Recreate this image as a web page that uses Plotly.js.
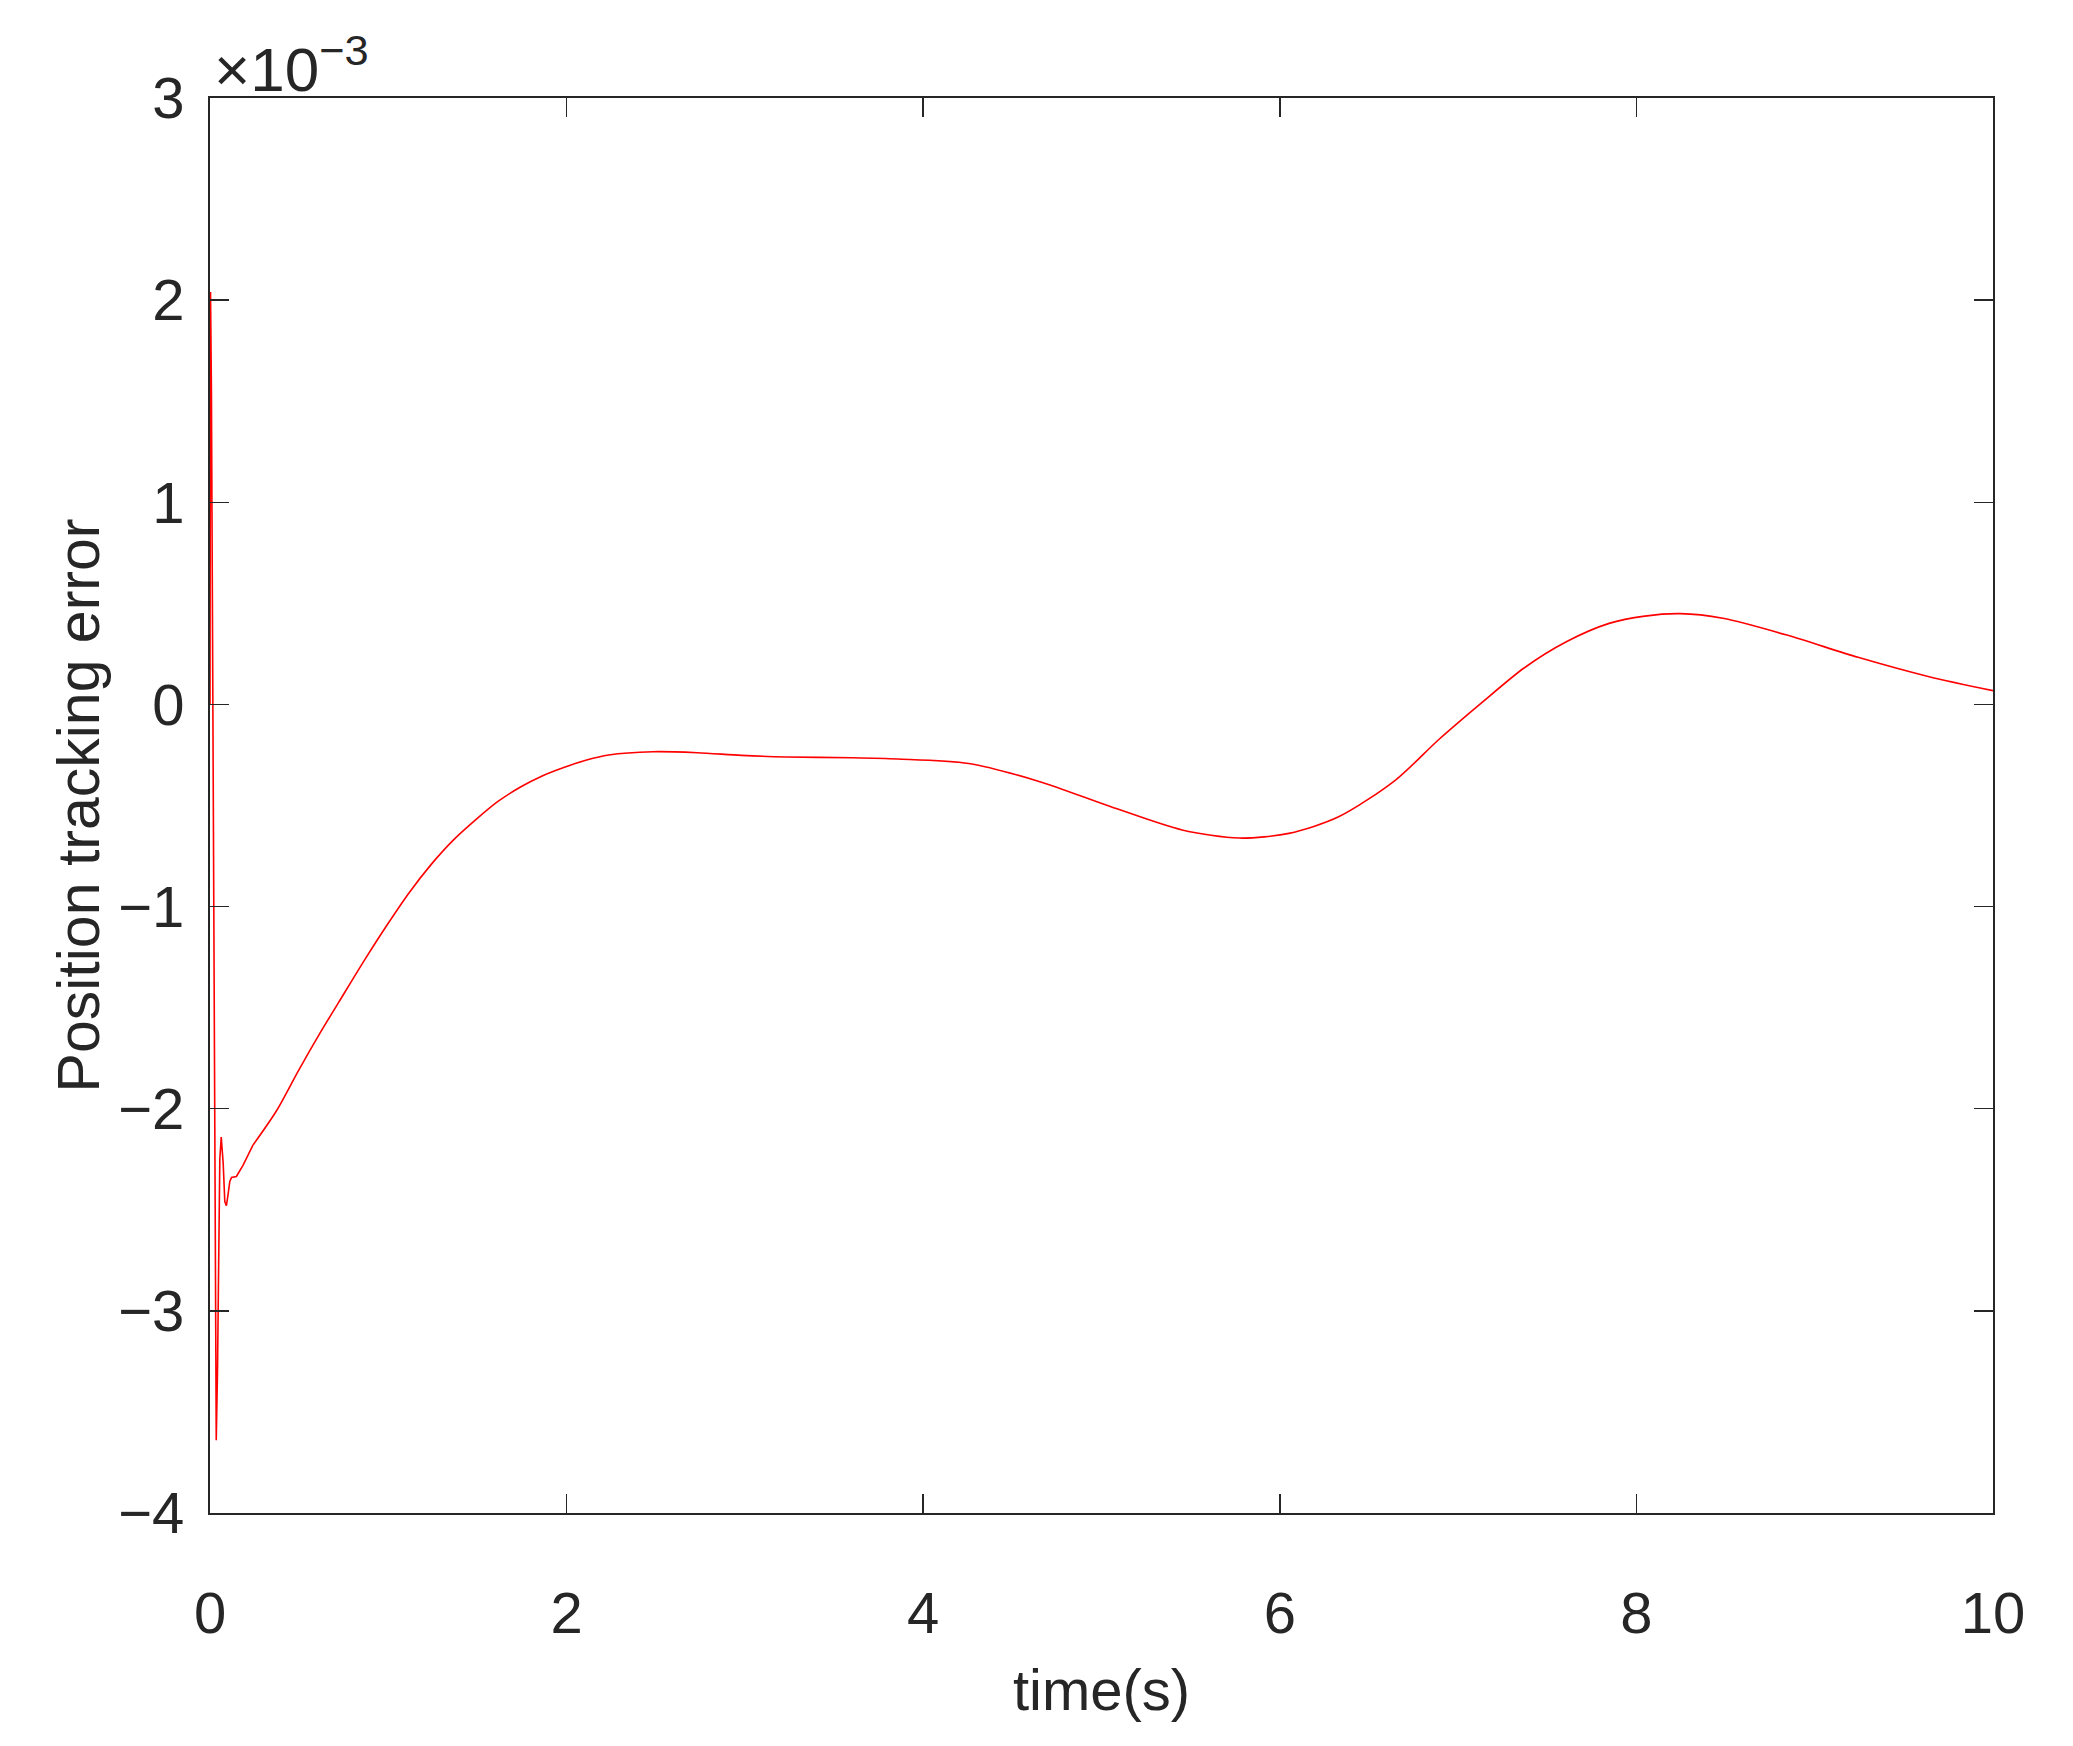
<!DOCTYPE html>
<html>
<head>
<meta charset="utf-8">
<script src="https://cdn.plot.ly/plotly-3.0.1.min.js"></script>
<style>
  html, body { margin: 0; padding: 0; background: #fff; }
  #chart { width: 2073px; height: 1746px; }
</style>
</head>
<body>
<div id="chart"></div>
<script>
  // time (s) and position tracking error (x 1e-3)
  const time = [0, 0.003, 0.008, 0.015, 0.022, 0.028, 0.035, 0.042, 0.048, 0.055,
    0.063, 0.074, 0.083, 0.092, 0.102, 0.111, 0.121, 0.148, 0.185, 0.241,
    0.373, 0.497, 0.621, 0.745, 0.870, 0.994, 1.118, 1.242, 1.366, 1.491,
    1.615, 1.739, 1.863, 1.988, 2.112, 2.236, 2.484, 2.733, 2.981, 3.23,
    3.60, 3.856, 4.255, 4.654, 5.053, 5.452, 5.772, 6.051, 6.330, 6.649,
    6.889, 7.128, 7.368, 7.607, 7.847, 8.047, 8.246, 8.485, 8.844, 9.243,
    9.642, 10.0];

  const posError = [0, 2.04, 1.55, 0.1, -1.5, -3.0, -3.64, -3.3, -2.7, -2.25,
    -2.14, -2.27, -2.46, -2.48, -2.42, -2.36, -2.34, -2.335, -2.28, -2.18,
    -2.01, -1.81, -1.62, -1.44, -1.26, -1.09, -0.93, -0.79, -0.67, -0.57,
    -0.48, -0.41, -0.354, -0.311, -0.275, -0.250, -0.234, -0.239, -0.252, -0.260,
    -0.264, -0.270, -0.292, -0.382, -0.506, -0.621, -0.661, -0.638, -0.556, -0.374,
    -0.176, 0.005, 0.179, 0.310, 0.401, 0.437, 0.449, 0.426, 0.343, 0.233,
    0.137, 0.068];

  const xTicks = [0, 2, 4, 6, 8, 10];
  const yTicks = [-4, -3, -2, -1, 0, 1, 2, 3];

  // the first 0.24 s is a sharp transient, the rest is smooth
  const split = 19;

  const axisColor = '#262626';
  const font = { family: 'Liberation Sans, Arial, sans-serif', size: 58, color: axisColor };

  var trace1 = {
    x: time.slice(0, split + 1),
    y: posError.slice(0, split + 1),
    mode: 'lines',
    type: 'scatter',
    name: 'transient',
    line: { color: '#ff0000', width: 1.6 },
  };

  var trace2 = {
    x: time.slice(split),
    y: posError.slice(split),
    mode: 'lines',
    type: 'scatter',
    name: 'error',
    line: { color: '#ff0000', width: 1.6, shape: 'spline', smoothing: 0.8 },
  };

  var layout = {
    width: 2073,
    height: 1746,
    margin: { l: 210, r: 80, t: 98, b: 233 },
    paper_bgcolor: '#ffffff',
    plot_bgcolor: '#ffffff',
    showlegend: false,
    font: font,
    xaxis: {
      range: [0, 10],
      tickvals: xTicks,
      ticks: 'inside',
      ticklen: 19,
      tickwidth: 1.5,
      tickcolor: axisColor,
      showline: true,
      linecolor: axisColor,
      linewidth: 2,
      mirror: 'ticks',
      showgrid: false,
      zeroline: false,
      ticklabelstandoff: 48,
      tickfont: font,
      title: { text: 'time(s)', font: font, standoff: 26 },
    },
    yaxis: {
      range: [-4, 3],
      tickvals: yTicks,
      ticks: 'inside',
      ticklen: 19,
      tickwidth: 1.5,
      tickcolor: axisColor,
      showline: true,
      linecolor: axisColor,
      linewidth: 2,
      mirror: 'ticks',
      showgrid: false,
      zeroline: false,
      ticklabelstandoff: 12,
      tickfont: font,
      title: { text: 'Position tracking error', font: { family: font.family, size: 59, color: axisColor }, standoff: 0 },
    },
    annotations: [{
      xref: 'paper', yref: 'paper',
      x: 0, y: 1,
      xanchor: 'left', yanchor: 'bottom',
      xshift: 2, yshift: -8,
      showarrow: false,
      text: '×10<sup>−3</sup>',
      font: { family: font.family, size: 62, color: axisColor },
    }],
  };

  Plotly.newPlot('chart', [trace1, trace2], layout, { displayModeBar: false, staticPlot: true });
</script>
</body>
</html>
